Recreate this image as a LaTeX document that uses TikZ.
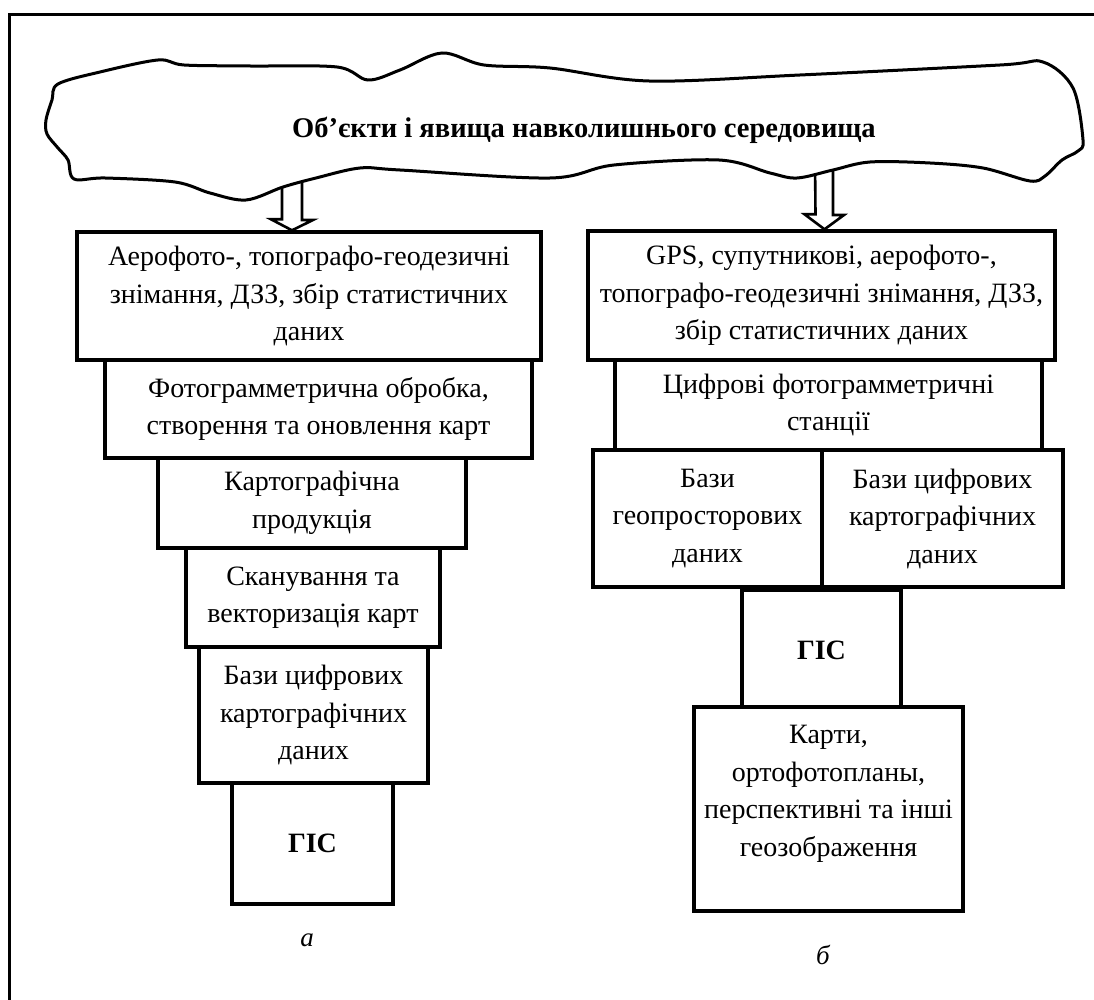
\documentclass[tikz,border=0pt]{standalone}
\usepackage{fontspec}
\setmainfont{Liberation Serif}
\begin{document}
\begin{tikzpicture}[x=1pt,y=-1pt]
\tikzset{
  blk/.style={draw, line width=3.4pt, inner sep=0pt, align=center, fill=white,
    font=\fontsize{28}{37.5}\selectfont},
  txt/.style={inner sep=0pt, align=center, font=\fontsize{28}{37.5}\selectfont},
  bigarrow/.style={draw, fill=white, line width=2.6pt, line join=miter},
  cloudline/.style={draw, fill=white, line width=3pt},
}
\useasboundingbox (0,0) rectangle (1094,1000);
\draw[line width=3pt] (9,1000) -- (9,15) -- (1094,15);

% boxes, left column
\node[blk, minimum width=464, minimum height=128] (l1) at (309,296)
  {Аерофото-, топографо-геодезичні\\знімання, ДЗЗ, збір статистичних\\даних};
\node[blk, minimum width=427, minimum height=98] (l2) at (318.5,409)
  {Фотограмметрична обробка,\\створення та оновлення карт};
\node[blk, minimum width=308, minimum height=90] (l3) at (312,503)
  {Картографічна\\продукція};
\node[blk, minimum width=254, minimum height=99] (l4) at (313,597.5)
  {Сканування та\\векторизація карт};
\node[blk, minimum width=229, minimum height=136] (l5) at (313.5,715)
  {Бази цифрових\\картографічних\\даних};
\node[blk, minimum width=161, minimum height=121, font=\fontsize{28}{37.5}\bfseries\selectfont] (l6) at (312.5,843.5)
  {ГІС};

% boxes, right column
\node[blk, minimum width=467, minimum height=129] (r1) at (821.5,295.5)
  {GPS, супутникові, аерофото-,\\топографо-геодезичні знімання, ДЗЗ,\\збір статистичних даних};
\node[blk, minimum width=427, minimum height=90] (r2) at (828.5,405)
  {Цифрові фотограмметричні\\станції};
\node[blk, minimum width=229, minimum height=137] (r3a) at (707.5,518.5)
  {Бази\\геопросторових\\даних};
\node[blk, minimum width=241, minimum height=137] (r3b) at (942.5,518.5)
  {Бази цифрових\\картографічних\\даних};
\node[blk, minimum width=159, minimum height=120, font=\fontsize{28}{37.5}\bfseries\selectfont] (r4) at (821.5,650)
  {ГІС};
\node[blk, minimum width=269, minimum height=204] (r5) at (828.5,809) {};
\node[txt] (r5t) at (828.5,794)
  {Карти,\\ортофотопланы,\\перспективні та інші\\геозображення};

% block arrows from the cloud
\coordinate (ca) at (292,180);
\coordinate (cb) at (824,160);
\draw[bigarrow] ([xshift=-17pt]l1.north) -- ++(-21,-11) -- ++(11,0) -- (ca -| 282,0) -- (ca -| 302,0) -- (302,220) -- ++(11,0) -- cycle;
\draw[bigarrow] ([xshift=3pt]r1.north) -- ++(-20,-15) -- ++(11,0) -- (cb -| 815,0) -- (cb -| 833,0) -- (833,215) -- ++(11,0) -- cycle;

% cloud
\draw[cloudline] plot[smooth cycle, tension=0.55] coordinates {
  (58,84) (100,72) (158,60) (184,65) (250,66) (337,67) (368,80) (400,70)
  (442,53) (484,65) (550,68) (649,81) (800,75) (1000,65) (1043,62)
  (1073,88) (1083,140) (1078,151) (1062,160) (1045,176) (1030,181)
  (983,168) (930,163) (870,162) (833,170) (797,178) (770,173) (719,160)
  (614,165) (550,178) (400,170) (360,168) (316,178) (283,187) (246,200)
  (210,193) (175,182) (105,178) (74,179) (68,160) (58,148) (47,134)
  (46,120) (52,100)};
\node[font=\fontsize{28.5}{34}\bfseries\selectfont, inner sep=0pt] (title) at (584,130)
  {Об’єкти і явища навколишнього середовища};

\node[font=\fontsize{27}{34}\itshape\selectfont, inner sep=0pt] (la) at (307,940) {а};
\node[font=\fontsize{27}{34}\itshape\selectfont, inner sep=0pt] (lb) at (823,955) {б};
\end{tikzpicture}
\end{document}
